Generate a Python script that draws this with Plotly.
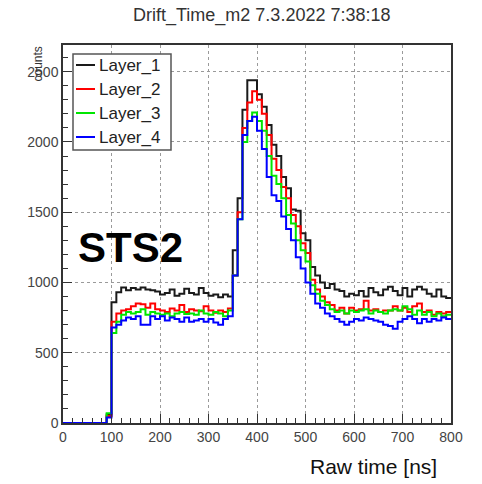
import plotly.graph_objects as go

# ---- data: histogram bin left edges (10 ns bins, 0..800) and counts ----
bin_width = 10
bin_edges = list(range(0, 800, bin_width))

layer_1 = [0]*9 + [60,
    860, 930, 965, 945, 960, 950, 965, 950, 945, 935,
    915, 925, 950, 905, 920, 955, 925, 915, 960, 925,
    905, 915, 895, 915, 900, 1230, 1600, 2230, 2440, 2440,
    2340, 2250, 2120, 1980, 1900, 1750, 1670, 1520, 1510, 1350,
    1300, 1110, 1050, 1000, 960, 990, 950, 940, 900, 920,
    910, 940, 900, 960, 930, 910, 950, 970, 940, 910,
    960, 900, 950, 970, 950, 920, 900, 950, 900, 890]

layer_2 = [0]*9 + [50,
    720, 780, 800, 810, 830, 850, 845, 820, 850, 810,
    800, 790, 815, 800, 840, 790, 810, 800, 795, 830,
    800, 785, 800, 790, 815, 1050, 1500, 2100, 2280, 2360,
    2300, 2200, 2050, 1880, 1800, 1680, 1600, 1480, 1400, 1280,
    1210, 1020, 950, 900, 860, 840, 800, 820, 780, 820,
    800, 810, 870, 800, 810, 790, 800, 800, 830, 800,
    820, 790, 830, 850, 790, 800, 770, 790, 780, 790]

layer_3 = [0]*9 + [70,
    640, 720, 770, 790, 780, 790, 810, 770, 790, 780,
    770, 780, 760, 780, 790, 775, 780, 770, 800, 780,
    770, 790, 780, 760, 800, 1050, 1450, 2000, 2150, 2210,
    2150, 2080, 1900, 1760, 1700, 1600, 1480, 1420, 1300, 1230,
    1150, 980, 920, 870, 840, 810, 790, 800, 780, 800,
    790, 800, 810, 780, 800, 790, 780, 800, 810, 800,
    830, 810, 770, 800, 770, 790, 760, 780, 760, 770]

layer_4 = [0]*9 + [40,
    680, 700, 730, 750, 740, 760, 700, 700, 760, 740,
    760, 730, 750, 740, 720, 750, 720, 730, 740, 720,
    740, 715, 700, 740, 760, 1050, 1450, 2050, 2150, 2180,
    2080, 1950, 1750, 1620, 1580, 1470, 1380, 1300, 1180, 1100,
    1000, 920, 850, 820, 780, 760, 740, 720, 700, 720,
    740, 730, 750, 740, 730, 720, 700, 690, 670, 720,
    740, 760, 740, 710, 740, 720, 740, 730, 750, 740]

series_names = ["Layer_1", "Layer_2", "Layer_3", "Layer_4"]
series_values = [layer_1, layer_2, layer_3, layer_4]
series_colors = ["#1a1a1a", "#ff0000", "#00e600", "#0000ff"]

x_ticks = [0, 100, 200, 300, 400, 500, 600, 700, 800]
y_ticks = [0, 500, 1000, 1500, 2000, 2500]

title_text = "Drift_Time_m2 7.3.2022 7:38:18"
x_title = "Raw time [ns]"
y_title = "counts"
label_text = "STS2"

FONT = "Liberation Sans, Arial, Helvetica, sans-serif"

fig = go.Figure()
for name, vals, col in zip(series_names, series_values, series_colors):
    xs = bin_edges + [bin_edges[-1] + bin_width]
    ys = vals + [vals[-1]]
    fig.add_trace(go.Scatter(x=xs, y=ys, mode="lines", name=name,
                             line=dict(color=col, width=2, shape="hv"),
                             showlegend=False, hoverinfo="skip"))

# plot-area pixel geometry
L, R, T, B = 63, 451, 45, 423
W, H = R - L, B - T
def px(xp): return (xp - L) / W
def py(yp): return (B - yp) / H

axis_common = dict(showline=True, linecolor="#333333", linewidth=1.5, mirror=True,
                   ticks="inside", tickcolor="#333333", tickwidth=1,
                   showgrid=True, gridcolor="#9a9a9a", griddash="dot", gridwidth=1,
                   zeroline=False,
                   tickfont=dict(family=FONT, size=14, color="#444444"))

fig.update_xaxes(range=[0, 800], tickvals=x_ticks, ticklen=9,
                 minor=dict(dtick=20, ticks="inside", ticklen=5, tickcolor="#333333", showgrid=False),
                 **axis_common)
fig.update_yaxes(range=[0, 2690], tickvals=y_ticks, ticklen=9,
                 minor=dict(dtick=100, ticks="inside", ticklen=5, tickcolor="#333333", showgrid=False),
                 **axis_common)

annotations = [
    dict(text=title_text, x=px(261), y=py(15), xref="paper", yref="paper",
         xanchor="center", yanchor="middle", showarrow=False,
         font=dict(family=FONT, size=18, color="#333333")),
    dict(text=x_title, x=px(439), y=py(466), xref="paper", yref="paper",
         xanchor="right", yanchor="middle", showarrow=False,
         font=dict(family=FONT, size=21, color="#111111")),
    dict(text=y_title, x=px(37), y=py(45), xref="paper", yref="paper",
         xanchor="center", yanchor="top", textangle=-90, showarrow=False,
         font=dict(family=FONT, size=12, color="#333333")),
    dict(text="<b>" + label_text + "</b>", x=px(76), y=py(247), xref="paper", yref="paper",
         xanchor="left", yanchor="middle", showarrow=False,
         font=dict(family=FONT, size=42, color="#000000")),
]

shapes = [dict(type="rect", xref="paper", yref="paper",
               x0=px(73), x1=px(171), y0=py(150), y1=py(54),
               line=dict(color="#555555", width=1.5), fillcolor="white", layer="above")]
for i, (name, col) in enumerate(zip(series_names, series_colors)):
    yc = 65 + 24 * i
    shapes.append(dict(type="line", xref="paper", yref="paper",
                       x0=px(76), x1=px(95), y0=py(yc), y1=py(yc),
                       line=dict(color=col, width=2), layer="above"))
    annotations.append(dict(text=name, x=px(97), y=py(yc), xref="paper", yref="paper",
                            xanchor="left", yanchor="middle", showarrow=False,
                            font=dict(family=FONT, size=17, color="#222222")))

fig.update_layout(width=482, height=484,
                  margin=dict(l=L, r=482 - R, t=T, b=484 - B),
                  plot_bgcolor="white", paper_bgcolor="white",
                  annotations=annotations, shapes=shapes, showlegend=False)

fig.write_html("out.html")
